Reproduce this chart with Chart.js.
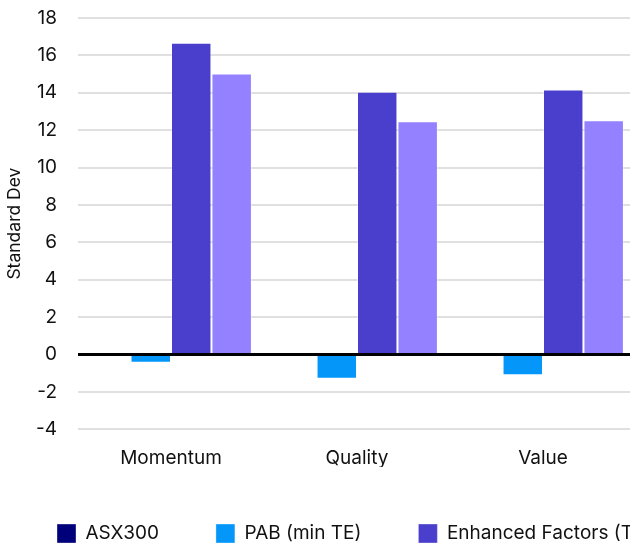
<!DOCTYPE html>
<html>
<head>
<meta charset="utf-8">
<script src="https://cdn.jsdelivr.net/npm/chart.js@4"></script>
<style>
  html, body { margin: 0; padding: 0; overflow: hidden; background: #fff; }
  #wrap { width: 800px; height: 629px; position: relative; }
</style>
</head>
<body>
<div id="wrap"><canvas id="chart"></canvas></div>
<script>
const categories = ["Momentum", "Quality", "Value"];
const seriesNames = ["ASX300", "PAB (min TE)", "Enhanced Factors (TE 1%)", "Enhanced Factors (TE 2%)"];
const asx300 = [0, 0, 0];
const pabMinTE = [-0.45, -1.3, -1.12];
const enhancedTE1 = [16.68, 14.05, 14.18];
const enhancedTE2 = [15.03, 12.48, 12.53];
const seriesColors = ["#00007a", "#0596fa", "#4a3fcc", "#9381ff"];
const yTicks = [-4, -2, 0, 2, 4, 6, 8, 10, 12, 14, 16, 18];

const values = [asx300, pabMinTE, enhancedTE1, enhancedTE2];
const font = "Inter, 'Noto Sans', sans-serif";

new Chart(document.getElementById("chart"), {
  type: "bar",
  data: {
    labels: categories,
    datasets: seriesNames.map((name, i) => ({
      label: name,
      data: values[i],
      backgroundColor: seriesColors[i],
      borderColor: "rgba(255,255,255,0.35)",
      borderWidth: 1,
      categoryPercentage: 0.87,
      barPercentage: 1
    }))
  },
  options: {
    responsive: true,
    maintainAspectRatio: false,
    animation: false,
    layout: { padding: { top: 18, left: 0, right: 0, bottom: 0 } },
    plugins: {
      tooltip: { enabled: false },
      legend: {
        position: "bottom",
        align: "start",
        labels: {
          boxWidth: 19,
          boxHeight: 19,
          padding: 57,
          color: "#111",
          font: { family: font, size: 19 }
        }
      }
    },
    scales: {
      x: {
        grid: { display: false },
        border: { display: false },
        ticks: { color: "#111", padding: 10, font: { family: font, size: 19 } },
        afterFit: axis => { axis.height -= 13; }
      },
      y: {
        min: -4,
        max: 18,
        afterBuildTicks: axis => { axis.ticks = yTicks.map(v => ({ value: v })); },
        afterFit: axis => { axis.width = 78; axis.paddingTop = 0; },
        border: { display: false },
        grid: {
          drawTicks: false,
          color: ctx => ctx.tick && ctx.tick.value === 0 ? "#000" : "#e0e0e0",
          lineWidth: ctx => ctx.tick && ctx.tick.value === 0 ? 3 : 2
        },
        ticks: { color: "#111", padding: 21, font: { family: font, size: 19 } },
        title: { display: true, text: "Standard Dev", color: "#111", font: { family: font, size: 17.5 } }
      },
      // blank space to the right of the plot, past the visible window
      spacer: {
        position: "right",
        display: true,
        grid: { display: false },
        border: { display: false },
        ticks: { display: false },
        afterFit: axis => { axis.width = 164; }
      }
    }
  }
});
</script>
</body>
</html>
